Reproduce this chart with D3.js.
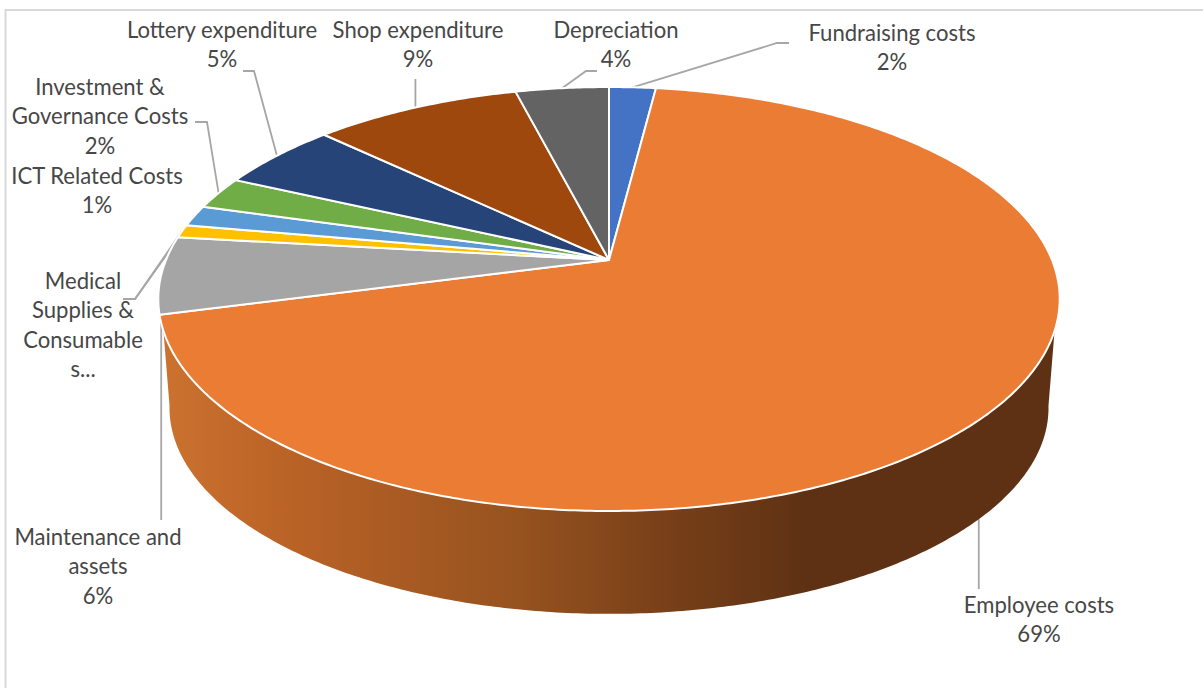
<!DOCTYPE html>
<html>
<head>
<meta charset="utf-8">
<script src="https://cdn.jsdelivr.net/npm/d3@7"></script>
<style>
  html, body { margin: 0; padding: 0; background: #fff; overflow: hidden; }
  svg { display: block; }
  text { font-family: Lato, "Open Sans", sans-serif; font-size: 22.1px; fill: #474747; text-anchor: middle; }
</style>
</head>
<body>
<svg id="chart" width="1203" height="688"></svg>
<script>
// values, clockwise from 12 o'clock
const categories = ['Fundraising costs', 'Employee costs', 'Maintenance and assets', 'Medical Supplies & Consumables',
  'ICT Related Costs', 'Investment & Governance Costs', 'Lottery expenditure', 'Shop expenditure', 'Depreciation'];
const values = [2.0, 68.9, 5.9, 1.0, 1.6, 2.5, 5.2, 8.9, 4.0];
const colors = ['#4472c4', '#ea7c33', '#a5a5a5', '#ffc000', '#5b9bd5', '#70ad47', '#264478', '#9e480e', '#636363'];
const labelLines = [
  ['Fundraising costs', '2%'],
  ['Employee costs', '69%'],
  ['Maintenance and', 'assets', '6%'],
  ['Medical', 'Supplies &', 'Consumable', 's...'],
  ['ICT Related Costs', '1%'],
  ['Investment &', 'Governance Costs', '2%'],
  ['Lottery expenditure', '5%'],
  ['Shop expenditure', '9%'],
  ['Depreciation', '4%']
];

// label placement, same order as categories: centre x, first line y, leader elbow points
const labelPos = [
  { x: 892, y: 40.5, elbow: [[789, 43], [777, 43]] },
  { x: 1039, y: 612.5, elbow: [[979, 589]], rim: 'bottom' },
  { x: 98, y: 544.5, elbow: [[162, 520]] },
  { x: 83, y: 288.5, elbow: [[123, 299], [135, 299]] },
  { x: 97, y: 183.5, elbow: [[123, 299], [135, 299]] },
  { x: 100, y: 94.5, elbow: [[195, 122], [207, 122]] },
  { x: 222, y: 37.5, elbow: [[243, 71], [254, 71]] },
  { x: 418, y: 37.5, elbow: [[420, 79]] },
  { x: 616, y: 37.5, elbow: [[597, 71], [586, 71]] }
];
const lineGap = 29.6;

// perspective ellipses for top and bottom of the disc
const topRim = { cx: 609, cy: 260, rx: 443, ry: 204.8, k: 0.184 };
const bottomRim = { cx: 609, cy: 370, rx: 432, ry: 199, k: 0.184 };

function project(rim, a) {
  const u = Math.sin(a), v = -Math.cos(a), s = 1 / (1 - rim.k * v);
  return [rim.cx + rim.rx * u * s, rim.cy + rim.ry * v * s];
}
function arcPoints(rim, a0, a1) {
  const n = Math.max(2, Math.ceil(Math.abs(a1 - a0) / 0.01));
  return d3.range(n + 1).map(i => project(rim, a0 + (a1 - a0) * i / n));
}

const svg = d3.select('#chart');
const line = d3.line();
const deg = d => d * Math.PI / 180;
const arcs = d3.pie().sort(null)(values);

// side gradient
const grad = svg.append('defs').append('linearGradient')
  .attr('id', 'side').attr('gradientUnits', 'userSpaceOnUse')
  .attr('x1', 161).attr('x2', 1058).attr('y1', 0).attr('y2', 0);
[[0, '#cc7230'], [0.15, '#b96226'], [0.4, '#96521f'], [0.55, '#7b4119'], [0.72, '#5e3114'], [1, '#5e3114']]
  .forEach(s => grad.append('stop').attr('offset', s[0]).attr('stop-color', s[1]));

// chart frame
svg.append('path').attr('d', 'M5.5,688V10H1203')
  .attr('fill', 'none').attr('stroke', '#d9d9d9').attr('stroke-width', 2);

// leaders sit under the pie
svg.append('g').selectAll('path')
  .data(arcs)
  .join('path')
  .attr('fill', 'none').attr('stroke', '#a6a6a6').attr('stroke-width', 1.8)
  .attr('d', (d, i) => {
    const mid = (d.startAngle + d.endAngle) / 2;
    const rim = labelPos[i].rim === 'bottom' ? bottomRim : topRim;
    const end = project(rim, mid);
    // one-segment leaders in the picture are plumb, keep them that way
    const elbow = labelPos[i].elbow.length === 1 ? [[end[0], labelPos[i].elbow[0][1]]] : labelPos[i].elbow;
    return line([...elbow, end]);
  });

// side wall of the employee slice, only part that faces the viewer
svg.append('path')
  .attr('fill', 'url(#side)')
  .attr('d', line([...arcPoints(topRim, deg(109), deg(251)), ...arcPoints(bottomRim, deg(260), deg(100))]) + 'Z');

// top faces
svg.append('g').selectAll('path')
  .data(arcs)
  .join('path')
  .attr('fill', (d, i) => colors[i])
  .attr('stroke', '#fff').attr('stroke-width', 2).attr('stroke-linejoin', 'round')
  .attr('d', d => line([[topRim.cx, topRim.cy], ...arcPoints(topRim, d.startAngle, d.endAngle)]) + 'Z');

// labels
const labels = svg.append('g').selectAll('text')
  .data(categories)
  .join('text')
  .attr('y', (d, i) => labelPos[i].y);
labels.selectAll('tspan')
  .data((d, i) => labelLines[i].map(t => ({ t, x: labelPos[i].x })))
  .join('tspan')
  .attr('x', d => d.x)
  .attr('dy', (d, i) => i ? lineGap : 0)
  .text(d => d.t);
</script>
</body>
</html>
